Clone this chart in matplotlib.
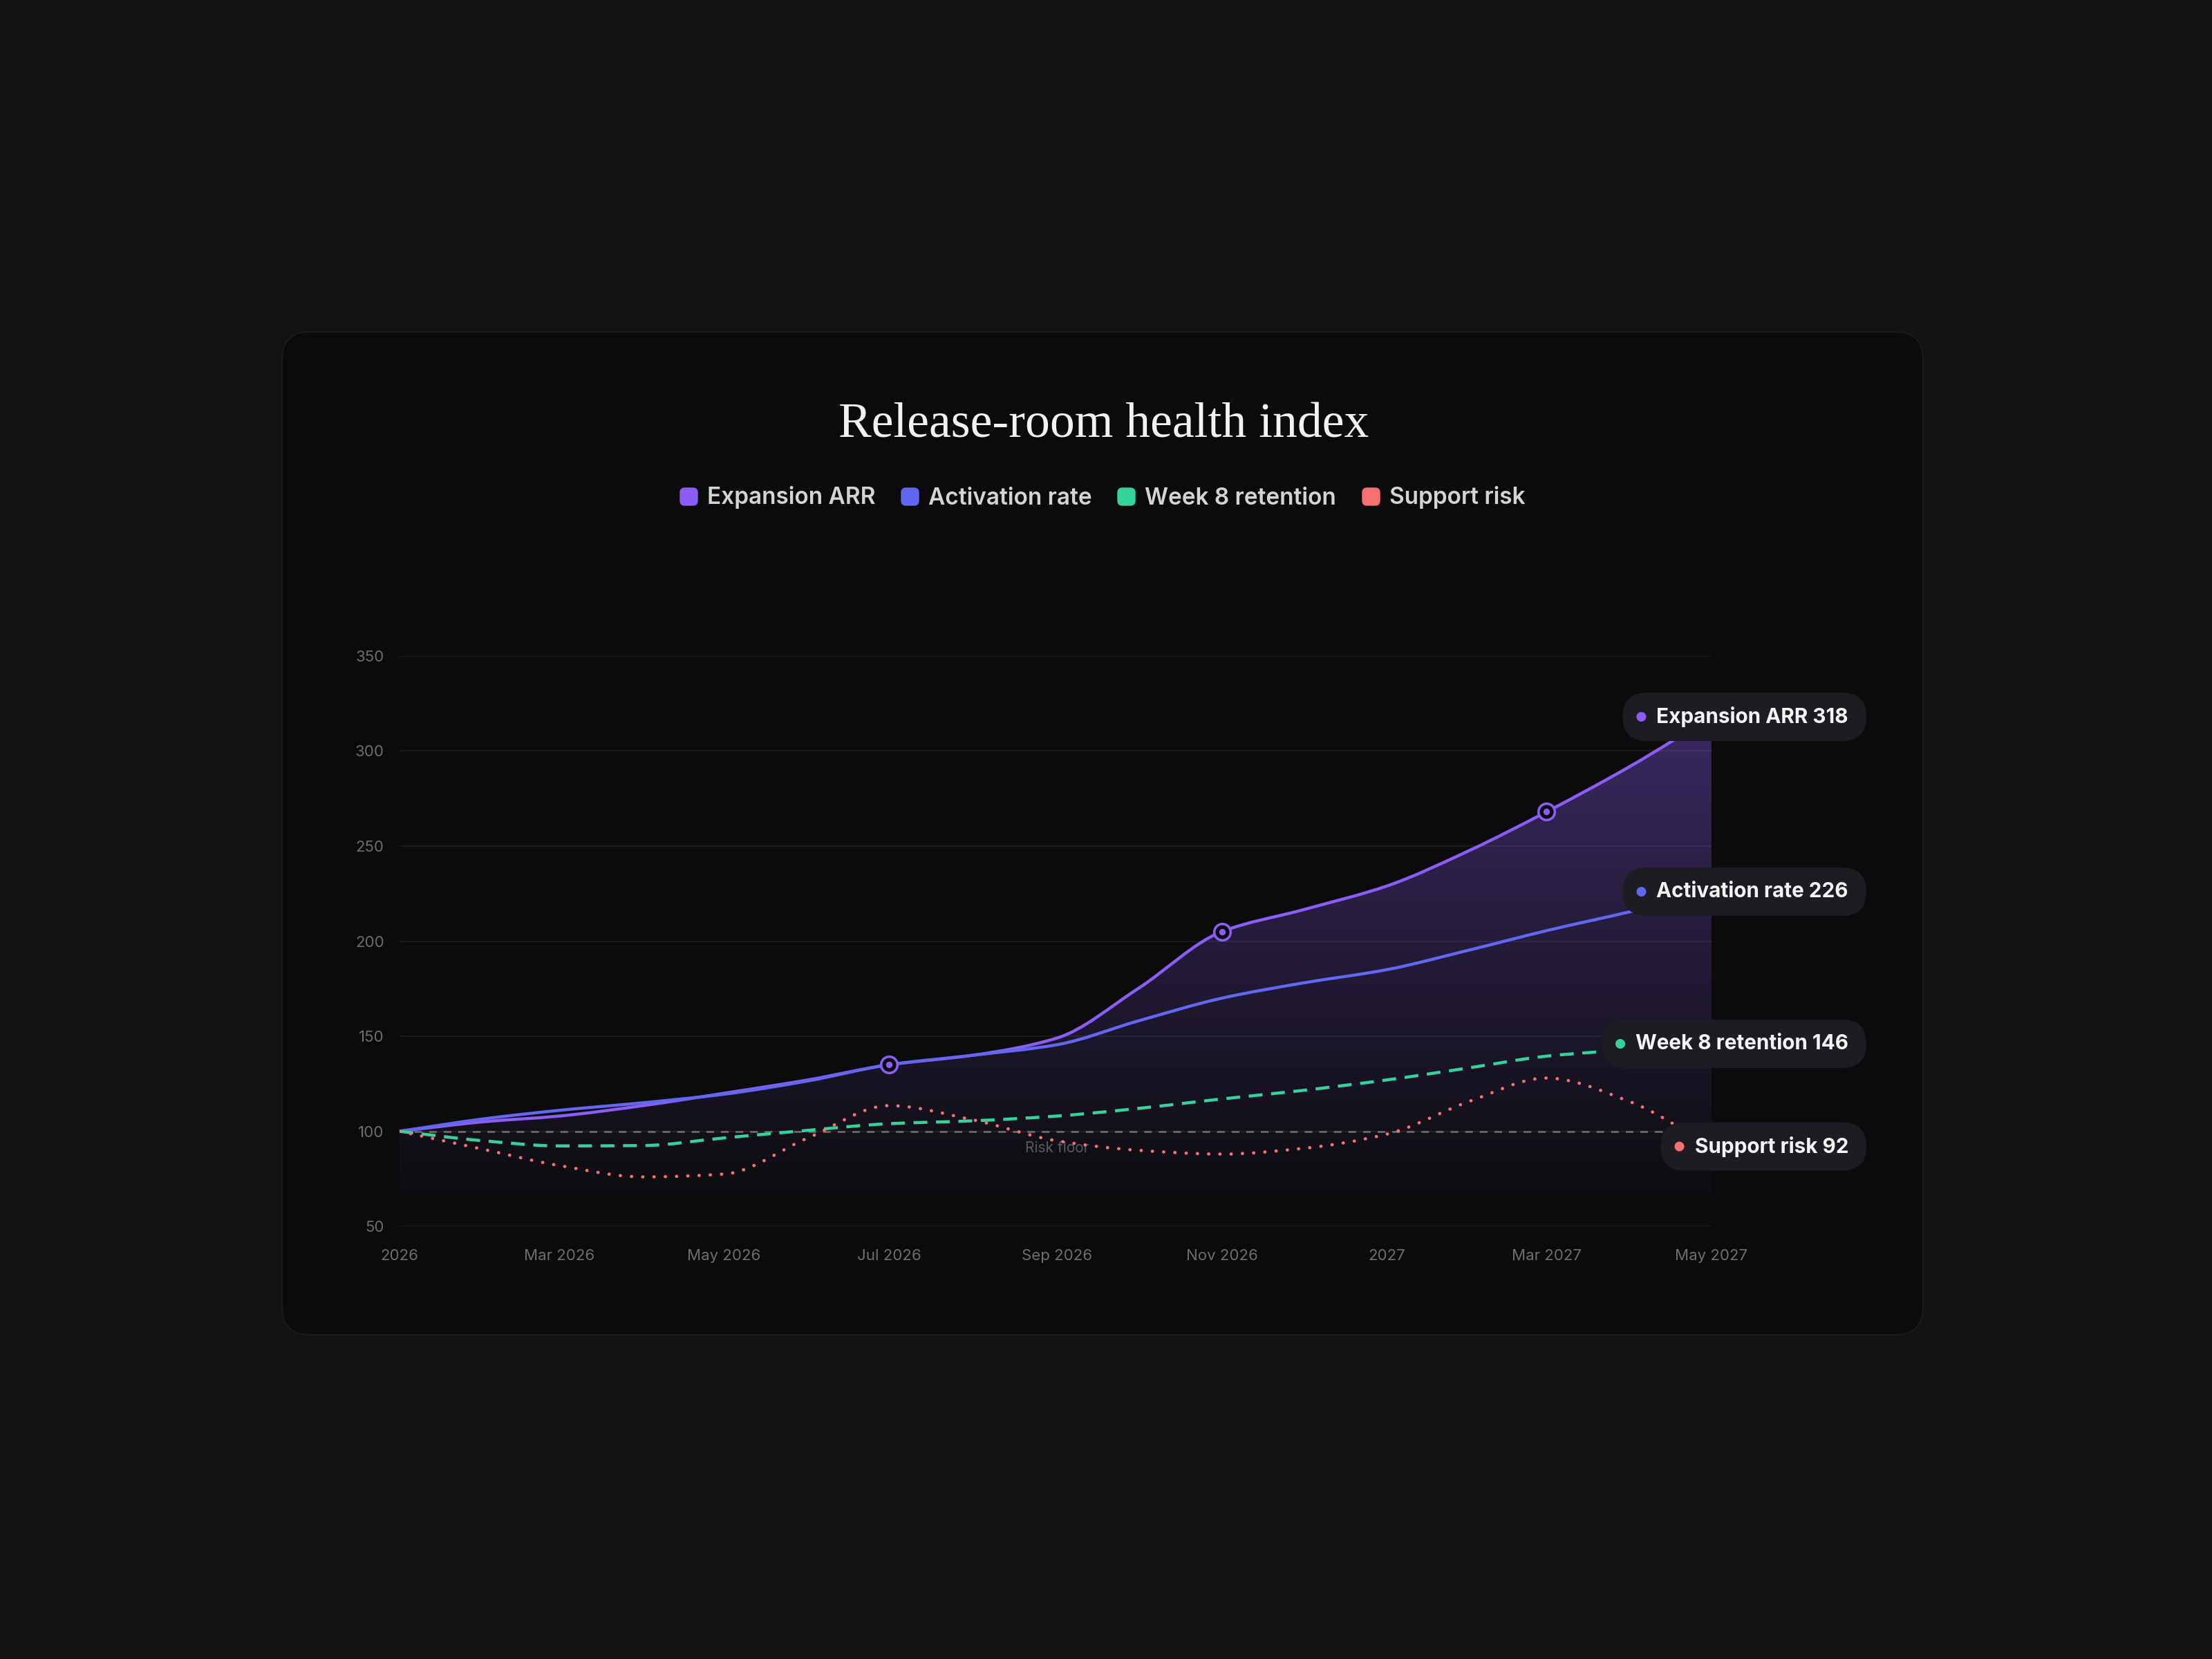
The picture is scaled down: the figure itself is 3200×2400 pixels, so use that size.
import numpy as np
import pandas as pd
import matplotlib
matplotlib.use("Agg")
import matplotlib.pyplot as plt
import matplotlib.dates as mdates
from matplotlib.colors import LinearSegmentedColormap
from matplotlib.lines import Line2D
from matplotlib.path import Path
from matplotlib.patches import FancyBboxPatch, Circle, PathPatch
from matplotlib.transforms import IdentityTransform, blended_transform_factory

# monthly index values, Jan 2026 .. May 2027
months = pd.date_range("2026-01-01", "2027-05-01", freq="MS")
expansion_arr = [100, 105, 108, 113.5, 120, 127, 135, 140, 149, 175, 205, 216.5, 229, 248, 268, 292, 318]
activation_rate = [100, 106.5, 111, 115, 119.5, 126.5, 135, 140, 145.5, 158, 170, 178, 185, 195.5, 205.5, 215.5, 226]
week8_retention = [100, 95, 92.3, 92.5, 96.5, 100.5, 104, 105.5, 108, 112, 117, 121.5, 127, 133.5, 139.5, 143, 146]
support_risk = [100, 90.5, 82, 76, 77.5, 96.5, 113.5, 106, 95, 90, 88, 91, 98.5, 116, 128, 115.5, 92]

series_names = ["Expansion ARR", "Activation rate", "Week 8 retention", "Support risk"]
series_colors = ["#8b5cf6", "#6366f1", "#34d399", "#f87171"]

highlight_months = ["2026-07-01", "2026-11-01", "2027-03-01"]
risk_floor = 100
risk_floor_label = "Risk floor"

tick_months = pd.date_range("2026-01-01", "2027-05-01", freq="2MS")
tick_labels = ["2026", "Mar 2026", "May 2026", "Jul 2026", "Sep 2026",
               "Nov 2026", "2027", "Mar 2027", "May 2027"]
y_ticks = [50, 100, 150, 200, 250, 300, 350]

title = "Release-room health index"

BG = "#121212"
CARD = "#0b0b0b"
DPI = 200


def monotone_path(xs, ys):
    # smooth monotone-x cubic through the points, as bezier segments
    xs = np.asarray(xs, float)
    ys = np.asarray(ys, float)
    h = np.diff(xs)
    d = np.diff(ys) / h
    m = np.zeros_like(ys)
    m[0], m[-1] = d[0], d[-1]
    for i in range(1, len(ys) - 1):
        if d[i - 1] * d[i] > 0:
            m[i] = 2 / (1 / d[i - 1] + 1 / d[i])
    verts = [(xs[0], ys[0])]
    codes = [Path.MOVETO]
    for i in range(len(xs) - 1):
        dx = h[i] / 3
        verts += [(xs[i] + dx, ys[i] + m[i] * dx),
                  (xs[i + 1] - dx, ys[i + 1] - m[i + 1] * dx),
                  (xs[i + 1], ys[i + 1])]
        codes += [Path.CURVE4] * 3
    return verts, codes


plt.rcParams["font.family"] = ["Inter", "DejaVu Sans"]

fig = plt.figure(figsize=(16, 12), dpi=DPI, facecolor=BG)

# card
card = FancyBboxPatch((408, 2400 - 1931), 2374, 1451,
                      boxstyle="round,pad=0,rounding_size=40",
                      transform=IdentityTransform(), facecolor=CARD,
                      edgecolor="#1a1a1a", linewidth=0.8, zorder=-10)
fig.add_artist(card)

fig.text(0.4988, 0.7365, title, ha="center", va="baseline",
         family=["Liberation Serif", "DejaVu Serif"], fontsize=25.8, color="#f2f2f2")

ax = fig.add_axes([0.1806, 0.2608, 0.5931, 0.3438])
ax.patch.set_alpha(0)

x = mdates.date2num(months)

# gradient area under expansion ARR
v, c = monotone_path(x, expansion_arr)
area_path = Path(v + [(x[-1], 50), (x[0], 50), (x[0], 50)],
                 c + [Path.LINETO, Path.LINETO, Path.CLOSEPOLY])
fade = LinearSegmentedColormap.from_list(
    "fade", [(0.545, 0.361, 0.965, 0.0), (0.545, 0.361, 0.965, 0.37)])
grad = np.linspace(0, 1, 256).reshape(-1, 1)
img = ax.imshow(grad, extent=[x[0], x[-1], 50, max(expansion_arr)], origin="lower",
                cmap=fade, aspect="auto", zorder=1, interpolation="bilinear")
img.set_clip_path(area_path, transform=ax.transData)

# risk floor
ax.axhline(risk_floor, color="#6a6a6a", lw=1.0, dashes=(4, 3.6), zorder=2)
ax.text(mdates.date2num(pd.Timestamp("2026-09-01")), 91, risk_floor_label,
        ha="center", va="center", fontsize=7.5, color="#5a5a5a", zorder=2)

line_styles = [
    dict(lw=1.6),
    dict(lw=1.6),
    dict(lw=1.6, linestyle=(0, (4.5, 2.8))),
    dict(lw=1.7, linestyle=(0, (0.05, 3.4)), capstyle="round"),
]
for vals, color, style in zip([expansion_arr, activation_rate, week8_retention, support_risk],
                              series_colors, line_styles):
    v, c = monotone_path(x, vals)
    ax.add_patch(PathPatch(Path(v, c), fill=False, edgecolor=color, zorder=4, **style))

# highlighted points on expansion ARR
exp_series = pd.Series(expansion_arr, index=months)
hx = mdates.date2num(pd.to_datetime(highlight_months))
hy = exp_series.loc[pd.to_datetime(highlight_months)].values
ax.plot(hx, hy, "o", ms=8.5, mfc=CARD, mec=series_colors[0], mew=1.3, zorder=6)
ax.plot(hx, hy, "o", ms=2.4, color=series_colors[0], zorder=7)

ax.set_xlim(x[0], x[-1])
ax.set_ylim(50, 350)
ax.set_yticks(y_ticks)
ax.set_xticks(mdates.date2num(tick_months))
ax.set_xticklabels(tick_labels)
ax.grid(axis="y", color="#1b1b1b", lw=0.8, zorder=0)
ax.set_axisbelow(True)
for s in ax.spines.values():
    s.set_visible(False)
ax.tick_params(axis="both", length=0, colors="#6e6e6e", labelsize=8)
ax.tick_params(axis="x", pad=12)
ax.tick_params(axis="y", pad=8)

# legend with rounded square swatches
swatch = FancyBboxPatch((-0.5, -0.5), 1, 1, boxstyle="round,pad=0,rounding_size=0.25").get_path()
handles = [Line2D([], [], marker=swatch, linestyle="none", markersize=8.5,
                  color=col) for col in series_colors]
leg = fig.legend(handles, series_names, loc="center", bbox_to_anchor=(0.4985, 0.700),
                 ncol=4, frameon=False, handlelength=0.7, handletextpad=0.45,
                 columnspacing=1.15, prop={"size": 12, "weight": "semibold"})
for t in leg.get_texts():
    t.set_color("#d4d4d4")

# end labels in pills
fig.canvas.draw()
renderer = fig.canvas.get_renderer()
blend = blended_transform_factory(fig.transFigure, ax.transData)
last_values = [expansion_arr[-1], activation_rate[-1], week8_retention[-1], support_risk[-1]]
for name, val, color in zip(series_names, last_values, series_colors):
    label = f"{name} {val:g}"
    t = fig.text(2674 / 3200, val, label, transform=blend, ha="right", va="center",
                 fontsize=10.7, weight="bold", color="#f4f4f5", zorder=21)
    bb = t.get_window_extent(renderer=renderer)
    cy = ax.transData.transform((x[-1], val))[1]
    pill = FancyBboxPatch((bb.x0 - 49, cy - 35), bb.x1 - bb.x0 + 75, 70,
                          boxstyle="round,pad=0,rounding_size=35",
                          transform=IdentityTransform(), facecolor="#1c1c22",
                          edgecolor="none", zorder=20)
    fig.add_artist(pill)
    fig.add_artist(Circle((bb.x0 - 22, cy), 7, transform=IdentityTransform(),
                          facecolor=color, edgecolor="none", zorder=21))

fig.savefig("out.png", dpi=DPI, facecolor=BG)
